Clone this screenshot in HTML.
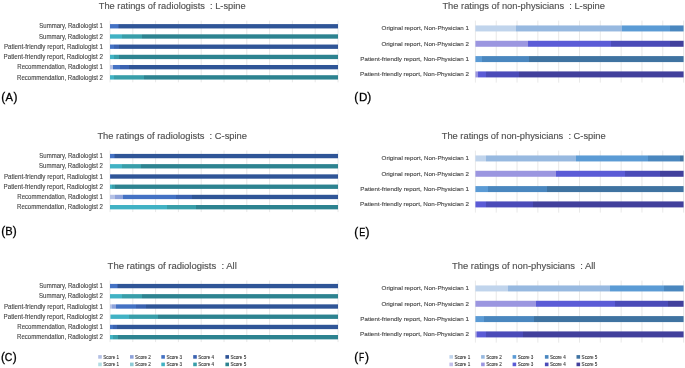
<!DOCTYPE html>
<html><head><meta charset="utf-8"><title>Ratings</title>
<style>
html,body{margin:0;padding:0;background:#fff;}
body{width:685px;height:368px;overflow:hidden;}
svg{display:block;will-change:transform;font-family:"Liberation Sans",sans-serif;}
text{white-space:pre;}
</style></head>
<body>
<svg width="685" height="368" viewBox="0 0 685 368" xml:space="preserve">
<rect width="685" height="368" fill="#fff"/>
<defs><linearGradient id="g0" gradientUnits="userSpaceOnUse" x1="110.00" y1="0" x2="338.00" y2="0"><stop offset="0.00000" stop-color="#4472c4"/><stop offset="0.03421" stop-color="#4472c4"/><stop offset="0.03421" stop-color="#3a62b0"/><stop offset="0.03947" stop-color="#3a62b0"/><stop offset="0.03947" stop-color="#2f5597"/><stop offset="1.00000" stop-color="#2f5597"/></linearGradient>
<linearGradient id="g1" gradientUnits="userSpaceOnUse" x1="110.00" y1="0" x2="338.00" y2="0"><stop offset="0.00000" stop-color="#41b2c4"/><stop offset="0.05307" stop-color="#41b2c4"/><stop offset="0.05307" stop-color="#389ea9"/><stop offset="0.14079" stop-color="#389ea9"/><stop offset="0.14079" stop-color="#2d8390"/><stop offset="1.00000" stop-color="#2d8390"/></linearGradient>
<linearGradient id="g2" gradientUnits="userSpaceOnUse" x1="110.00" y1="0" x2="338.00" y2="0"><stop offset="0.00000" stop-color="#4472c4"/><stop offset="0.01754" stop-color="#4472c4"/><stop offset="0.01754" stop-color="#3a62b0"/><stop offset="0.03947" stop-color="#3a62b0"/><stop offset="0.03947" stop-color="#2f5597"/><stop offset="1.00000" stop-color="#2f5597"/></linearGradient>
<linearGradient id="g3" gradientUnits="userSpaceOnUse" x1="110.00" y1="0" x2="338.00" y2="0"><stop offset="0.00000" stop-color="#41b2c4"/><stop offset="0.01667" stop-color="#41b2c4"/><stop offset="0.01667" stop-color="#389ea9"/><stop offset="0.03947" stop-color="#389ea9"/><stop offset="0.03947" stop-color="#2d8390"/><stop offset="1.00000" stop-color="#2d8390"/></linearGradient>
<linearGradient id="g4" gradientUnits="userSpaceOnUse" x1="110.00" y1="0" x2="338.00" y2="0"><stop offset="0.00000" stop-color="#b4c0e4"/><stop offset="0.01140" stop-color="#b4c0e4"/><stop offset="0.01140" stop-color="#4472c4"/><stop offset="0.04474" stop-color="#4472c4"/><stop offset="0.04474" stop-color="#3a62b0"/><stop offset="0.08333" stop-color="#3a62b0"/><stop offset="0.08333" stop-color="#2f5597"/><stop offset="1.00000" stop-color="#2f5597"/></linearGradient>
<linearGradient id="g5" gradientUnits="userSpaceOnUse" x1="110.00" y1="0" x2="338.00" y2="0"><stop offset="0.00000" stop-color="#41b2c4"/><stop offset="0.01754" stop-color="#41b2c4"/><stop offset="0.01754" stop-color="#389ea9"/><stop offset="0.14825" stop-color="#389ea9"/><stop offset="0.14825" stop-color="#2d8390"/><stop offset="1.00000" stop-color="#2d8390"/></linearGradient>
<linearGradient id="g6" gradientUnits="userSpaceOnUse" x1="110.00" y1="0" x2="338.00" y2="0"><stop offset="0.00000" stop-color="#4472c4"/><stop offset="0.01579" stop-color="#4472c4"/><stop offset="0.01579" stop-color="#3a62b0"/><stop offset="0.02105" stop-color="#3a62b0"/><stop offset="0.02105" stop-color="#2f5597"/><stop offset="1.00000" stop-color="#2f5597"/></linearGradient>
<linearGradient id="g7" gradientUnits="userSpaceOnUse" x1="110.00" y1="0" x2="338.00" y2="0"><stop offset="0.00000" stop-color="#41b2c4"/><stop offset="0.05263" stop-color="#41b2c4"/><stop offset="0.05263" stop-color="#389ea9"/><stop offset="0.13684" stop-color="#389ea9"/><stop offset="0.13684" stop-color="#2d8390"/><stop offset="1.00000" stop-color="#2d8390"/></linearGradient>
<linearGradient id="g8" gradientUnits="userSpaceOnUse" x1="110.00" y1="0" x2="338.00" y2="0"><stop offset="0.00000" stop-color="#3a62b0"/><stop offset="0.00263" stop-color="#3a62b0"/><stop offset="0.00263" stop-color="#2f5597"/><stop offset="1.00000" stop-color="#2f5597"/></linearGradient>
<linearGradient id="g9" gradientUnits="userSpaceOnUse" x1="110.00" y1="0" x2="338.00" y2="0"><stop offset="0.00000" stop-color="#41b2c4"/><stop offset="0.00877" stop-color="#41b2c4"/><stop offset="0.00877" stop-color="#389ea9"/><stop offset="0.02061" stop-color="#389ea9"/><stop offset="0.02061" stop-color="#2d8390"/><stop offset="1.00000" stop-color="#2d8390"/></linearGradient>
<linearGradient id="g10" gradientUnits="userSpaceOnUse" x1="110.00" y1="0" x2="338.00" y2="0"><stop offset="0.00000" stop-color="#b4c0e4"/><stop offset="0.02061" stop-color="#b4c0e4"/><stop offset="0.02061" stop-color="#8ea2da"/><stop offset="0.05702" stop-color="#8ea2da"/><stop offset="0.05702" stop-color="#4472c4"/><stop offset="0.28860" stop-color="#4472c4"/><stop offset="0.28860" stop-color="#3a62b0"/><stop offset="0.35965" stop-color="#3a62b0"/><stop offset="0.35965" stop-color="#2f5597"/><stop offset="1.00000" stop-color="#2f5597"/></linearGradient>
<linearGradient id="g11" gradientUnits="userSpaceOnUse" x1="110.00" y1="0" x2="338.00" y2="0"><stop offset="0.00000" stop-color="#41b2c4"/><stop offset="0.25088" stop-color="#41b2c4"/><stop offset="0.25088" stop-color="#389ea9"/><stop offset="0.37763" stop-color="#389ea9"/><stop offset="0.37763" stop-color="#2d8390"/><stop offset="1.00000" stop-color="#2d8390"/></linearGradient>
<linearGradient id="g12" gradientUnits="userSpaceOnUse" x1="110.00" y1="0" x2="338.00" y2="0"><stop offset="0.00000" stop-color="#4472c4"/><stop offset="0.03158" stop-color="#4472c4"/><stop offset="0.03158" stop-color="#3a62b0"/><stop offset="0.03596" stop-color="#3a62b0"/><stop offset="0.03596" stop-color="#2f5597"/><stop offset="1.00000" stop-color="#2f5597"/></linearGradient>
<linearGradient id="g13" gradientUnits="userSpaceOnUse" x1="110.00" y1="0" x2="338.00" y2="0"><stop offset="0.00000" stop-color="#41b2c4"/><stop offset="0.05351" stop-color="#41b2c4"/><stop offset="0.05351" stop-color="#389ea9"/><stop offset="0.13947" stop-color="#389ea9"/><stop offset="0.13947" stop-color="#2d8390"/><stop offset="1.00000" stop-color="#2d8390"/></linearGradient>
<linearGradient id="g14" gradientUnits="userSpaceOnUse" x1="110.00" y1="0" x2="338.00" y2="0"><stop offset="0.00000" stop-color="#b4c0e4"/><stop offset="0.00921" stop-color="#b4c0e4"/><stop offset="0.00921" stop-color="#8ea2da"/><stop offset="0.02544" stop-color="#8ea2da"/><stop offset="0.02544" stop-color="#4472c4"/><stop offset="0.11360" stop-color="#4472c4"/><stop offset="0.11360" stop-color="#3a62b0"/><stop offset="0.15877" stop-color="#3a62b0"/><stop offset="0.15877" stop-color="#2f5597"/><stop offset="1.00000" stop-color="#2f5597"/></linearGradient>
<linearGradient id="g15" gradientUnits="userSpaceOnUse" x1="110.00" y1="0" x2="338.00" y2="0"><stop offset="0.00000" stop-color="#8fcbd6"/><stop offset="0.00570" stop-color="#8fcbd6"/><stop offset="0.00570" stop-color="#41b2c4"/><stop offset="0.08377" stop-color="#41b2c4"/><stop offset="0.08377" stop-color="#389ea9"/><stop offset="0.21096" stop-color="#389ea9"/><stop offset="0.21096" stop-color="#2d8390"/><stop offset="1.00000" stop-color="#2d8390"/></linearGradient>
<linearGradient id="g16" gradientUnits="userSpaceOnUse" x1="110.00" y1="0" x2="338.00" y2="0"><stop offset="0.00000" stop-color="#4472c4"/><stop offset="0.01272" stop-color="#4472c4"/><stop offset="0.01272" stop-color="#3a62b0"/><stop offset="0.03158" stop-color="#3a62b0"/><stop offset="0.03158" stop-color="#2f5597"/><stop offset="1.00000" stop-color="#2f5597"/></linearGradient>
<linearGradient id="g17" gradientUnits="userSpaceOnUse" x1="110.00" y1="0" x2="338.00" y2="0"><stop offset="0.00000" stop-color="#41b2c4"/><stop offset="0.01491" stop-color="#41b2c4"/><stop offset="0.01491" stop-color="#389ea9"/><stop offset="0.03553" stop-color="#389ea9"/><stop offset="0.03553" stop-color="#2d8390"/><stop offset="1.00000" stop-color="#2d8390"/></linearGradient>
<linearGradient id="g18" gradientUnits="userSpaceOnUse" x1="475.40" y1="0" x2="683.60" y2="0"><stop offset="0.00000" stop-color="#c0d4ec"/><stop offset="0.19404" stop-color="#c0d4ec"/><stop offset="0.19404" stop-color="#97b9e0"/><stop offset="0.70605" stop-color="#97b9e0"/><stop offset="0.70605" stop-color="#5b9bd5"/><stop offset="0.93612" stop-color="#5b9bd5"/><stop offset="0.93612" stop-color="#4a87bf"/><stop offset="1.00000" stop-color="#4a87bf"/></linearGradient>
<linearGradient id="g19" gradientUnits="userSpaceOnUse" x1="475.40" y1="0" x2="683.60" y2="0"><stop offset="0.00000" stop-color="#9b96e0"/><stop offset="0.25168" stop-color="#9b96e0"/><stop offset="0.25168" stop-color="#5b5bd6"/><stop offset="0.65082" stop-color="#5b5bd6"/><stop offset="0.65082" stop-color="#4b4bb8"/><stop offset="0.93612" stop-color="#4b4bb8"/><stop offset="0.93612" stop-color="#42409c"/><stop offset="1.00000" stop-color="#42409c"/></linearGradient>
<linearGradient id="g20" gradientUnits="userSpaceOnUse" x1="475.40" y1="0" x2="683.60" y2="0"><stop offset="0.00000" stop-color="#5b9bd5"/><stop offset="0.03074" stop-color="#5b9bd5"/><stop offset="0.03074" stop-color="#4a87bf"/><stop offset="0.25889" stop-color="#4a87bf"/><stop offset="0.25889" stop-color="#3f73a1"/><stop offset="1.00000" stop-color="#3f73a1"/></linearGradient>
<linearGradient id="g21" gradientUnits="userSpaceOnUse" x1="475.40" y1="0" x2="683.60" y2="0"><stop offset="0.00000" stop-color="#9b96e0"/><stop offset="0.01201" stop-color="#9b96e0"/><stop offset="0.01201" stop-color="#5b5bd6"/><stop offset="0.05091" stop-color="#5b5bd6"/><stop offset="0.05091" stop-color="#4b4bb8"/><stop offset="0.21037" stop-color="#4b4bb8"/><stop offset="0.21037" stop-color="#42409c"/><stop offset="1.00000" stop-color="#42409c"/></linearGradient>
<linearGradient id="g22" gradientUnits="userSpaceOnUse" x1="475.40" y1="0" x2="683.60" y2="0"><stop offset="0.00000" stop-color="#c0d4ec"/><stop offset="0.05187" stop-color="#c0d4ec"/><stop offset="0.05187" stop-color="#97b9e0"/><stop offset="0.48319" stop-color="#97b9e0"/><stop offset="0.48319" stop-color="#5b9bd5"/><stop offset="0.83045" stop-color="#5b9bd5"/><stop offset="0.83045" stop-color="#4a87bf"/><stop offset="0.98271" stop-color="#4a87bf"/><stop offset="0.98271" stop-color="#3f73a1"/><stop offset="1.00000" stop-color="#3f73a1"/></linearGradient>
<linearGradient id="g23" gradientUnits="userSpaceOnUse" x1="475.40" y1="0" x2="683.60" y2="0"><stop offset="0.00000" stop-color="#9b96e0"/><stop offset="0.38713" stop-color="#9b96e0"/><stop offset="0.38713" stop-color="#5b5bd6"/><stop offset="0.71806" stop-color="#5b5bd6"/><stop offset="0.71806" stop-color="#4b4bb8"/><stop offset="0.88809" stop-color="#4b4bb8"/><stop offset="0.88809" stop-color="#42409c"/><stop offset="1.00000" stop-color="#42409c"/></linearGradient>
<linearGradient id="g24" gradientUnits="userSpaceOnUse" x1="475.40" y1="0" x2="683.60" y2="0"><stop offset="0.00000" stop-color="#5b9bd5"/><stop offset="0.05812" stop-color="#5b9bd5"/><stop offset="0.05812" stop-color="#4a87bf"/><stop offset="0.34438" stop-color="#4a87bf"/><stop offset="0.34438" stop-color="#3f73a1"/><stop offset="1.00000" stop-color="#3f73a1"/></linearGradient>
<linearGradient id="g25" gradientUnits="userSpaceOnUse" x1="475.40" y1="0" x2="683.60" y2="0"><stop offset="0.00000" stop-color="#5b5bd6"/><stop offset="0.05187" stop-color="#5b5bd6"/><stop offset="0.05187" stop-color="#4b4bb8"/><stop offset="0.27570" stop-color="#4b4bb8"/><stop offset="0.27570" stop-color="#42409c"/><stop offset="1.00000" stop-color="#42409c"/></linearGradient>
<linearGradient id="g26" gradientUnits="userSpaceOnUse" x1="475.40" y1="0" x2="683.60" y2="0"><stop offset="0.00000" stop-color="#c0d4ec"/><stop offset="0.15514" stop-color="#c0d4ec"/><stop offset="0.15514" stop-color="#97b9e0"/><stop offset="0.64553" stop-color="#97b9e0"/><stop offset="0.64553" stop-color="#5b9bd5"/><stop offset="0.90634" stop-color="#5b9bd5"/><stop offset="0.90634" stop-color="#4a87bf"/><stop offset="1.00000" stop-color="#4a87bf"/></linearGradient>
<linearGradient id="g27" gradientUnits="userSpaceOnUse" x1="475.40" y1="0" x2="683.60" y2="0"><stop offset="0.00000" stop-color="#9b96e0"/><stop offset="0.28963" stop-color="#9b96e0"/><stop offset="0.28963" stop-color="#5b5bd6"/><stop offset="0.67051" stop-color="#5b5bd6"/><stop offset="0.67051" stop-color="#4b4bb8"/><stop offset="0.92459" stop-color="#4b4bb8"/><stop offset="0.92459" stop-color="#42409c"/><stop offset="1.00000" stop-color="#42409c"/></linearGradient>
<linearGradient id="g28" gradientUnits="userSpaceOnUse" x1="475.40" y1="0" x2="683.60" y2="0"><stop offset="0.00000" stop-color="#5b9bd5"/><stop offset="0.03987" stop-color="#5b9bd5"/><stop offset="0.03987" stop-color="#4a87bf"/><stop offset="0.28290" stop-color="#4a87bf"/><stop offset="0.28290" stop-color="#3f73a1"/><stop offset="1.00000" stop-color="#3f73a1"/></linearGradient>
<linearGradient id="g29" gradientUnits="userSpaceOnUse" x1="475.40" y1="0" x2="683.60" y2="0"><stop offset="0.00000" stop-color="#9b96e0"/><stop offset="0.00865" stop-color="#9b96e0"/><stop offset="0.00865" stop-color="#5b5bd6"/><stop offset="0.04899" stop-color="#5b5bd6"/><stop offset="0.04899" stop-color="#4b4bb8"/><stop offset="0.22815" stop-color="#4b4bb8"/><stop offset="0.22815" stop-color="#42409c"/><stop offset="1.00000" stop-color="#42409c"/></linearGradient></defs>
<line x1="110.00" y1="20.70" x2="110.00" y2="82.30" stroke="#e0e0e0" stroke-width="0.75"/>
<line x1="132.80" y1="20.70" x2="132.80" y2="82.30" stroke="#e0e0e0" stroke-width="0.75"/>
<line x1="155.60" y1="20.70" x2="155.60" y2="82.30" stroke="#e0e0e0" stroke-width="0.75"/>
<line x1="178.40" y1="20.70" x2="178.40" y2="82.30" stroke="#e0e0e0" stroke-width="0.75"/>
<line x1="201.20" y1="20.70" x2="201.20" y2="82.30" stroke="#e0e0e0" stroke-width="0.75"/>
<line x1="224.00" y1="20.70" x2="224.00" y2="82.30" stroke="#e0e0e0" stroke-width="0.75"/>
<line x1="246.80" y1="20.70" x2="246.80" y2="82.30" stroke="#e0e0e0" stroke-width="0.75"/>
<line x1="269.60" y1="20.70" x2="269.60" y2="82.30" stroke="#e0e0e0" stroke-width="0.75"/>
<line x1="292.40" y1="20.70" x2="292.40" y2="82.30" stroke="#e0e0e0" stroke-width="0.75"/>
<line x1="315.20" y1="20.70" x2="315.20" y2="82.30" stroke="#e0e0e0" stroke-width="0.75"/>
<line x1="338.00" y1="20.70" x2="338.00" y2="82.30" stroke="#e0e0e0" stroke-width="0.75"/>
<rect x="110.00" y="24.10" width="228.00" height="4.35" fill="url(#g0)"/>
<rect x="110.00" y="34.32" width="228.00" height="4.35" fill="url(#g1)"/>
<rect x="110.00" y="44.54" width="228.00" height="4.35" fill="url(#g2)"/>
<rect x="110.00" y="54.76" width="228.00" height="4.35" fill="url(#g3)"/>
<rect x="110.00" y="64.98" width="228.00" height="4.35" fill="url(#g4)"/>
<rect x="110.00" y="75.20" width="228.00" height="4.35" fill="url(#g5)"/>
<text x="102.90" y="28.45" font-size="6.6" fill="#474747" text-anchor="end" stroke="#474747" stroke-width="0.12" textLength="63.60" lengthAdjust="spacingAndGlyphs">Summary, Radiologist 1</text>
<text x="102.90" y="38.67" font-size="6.6" fill="#474747" text-anchor="end" stroke="#474747" stroke-width="0.12" textLength="63.90" lengthAdjust="spacingAndGlyphs">Summary, Radiologist 2</text>
<text x="102.90" y="48.89" font-size="6.6" fill="#474747" text-anchor="end" stroke="#474747" stroke-width="0.12" textLength="99.00" lengthAdjust="spacingAndGlyphs">Patient-friendly report, Radiologist 1</text>
<text x="102.90" y="59.11" font-size="6.6" fill="#474747" text-anchor="end" stroke="#474747" stroke-width="0.12" textLength="99.30" lengthAdjust="spacingAndGlyphs">Patient-friendly report, Radiologist 2</text>
<text x="102.90" y="69.33" font-size="6.6" fill="#474747" text-anchor="end" stroke="#474747" stroke-width="0.12" textLength="85.60" lengthAdjust="spacingAndGlyphs">Recommendation, Radiologist 1</text>
<text x="102.90" y="79.55" font-size="6.6" fill="#474747" text-anchor="end" stroke="#474747" stroke-width="0.12" textLength="85.90" lengthAdjust="spacingAndGlyphs">Recommendation, Radiologist 2</text>
<text x="172.20" y="9.10" font-size="9.9" fill="#505050" text-anchor="middle" stroke="#505050" stroke-width="0.15" textLength="146.80" lengthAdjust="spacingAndGlyphs">The ratings of radiologists  : L-spine</text>
<line x1="110.00" y1="150.50" x2="110.00" y2="212.10" stroke="#e0e0e0" stroke-width="0.75"/>
<line x1="132.80" y1="150.50" x2="132.80" y2="212.10" stroke="#e0e0e0" stroke-width="0.75"/>
<line x1="155.60" y1="150.50" x2="155.60" y2="212.10" stroke="#e0e0e0" stroke-width="0.75"/>
<line x1="178.40" y1="150.50" x2="178.40" y2="212.10" stroke="#e0e0e0" stroke-width="0.75"/>
<line x1="201.20" y1="150.50" x2="201.20" y2="212.10" stroke="#e0e0e0" stroke-width="0.75"/>
<line x1="224.00" y1="150.50" x2="224.00" y2="212.10" stroke="#e0e0e0" stroke-width="0.75"/>
<line x1="246.80" y1="150.50" x2="246.80" y2="212.10" stroke="#e0e0e0" stroke-width="0.75"/>
<line x1="269.60" y1="150.50" x2="269.60" y2="212.10" stroke="#e0e0e0" stroke-width="0.75"/>
<line x1="292.40" y1="150.50" x2="292.40" y2="212.10" stroke="#e0e0e0" stroke-width="0.75"/>
<line x1="315.20" y1="150.50" x2="315.20" y2="212.10" stroke="#e0e0e0" stroke-width="0.75"/>
<line x1="338.00" y1="150.50" x2="338.00" y2="212.10" stroke="#e0e0e0" stroke-width="0.75"/>
<rect x="110.00" y="153.90" width="228.00" height="4.35" fill="url(#g6)"/>
<rect x="110.00" y="164.12" width="228.00" height="4.35" fill="url(#g7)"/>
<rect x="110.00" y="174.34" width="228.00" height="4.35" fill="url(#g8)"/>
<rect x="110.00" y="184.56" width="228.00" height="4.35" fill="url(#g9)"/>
<rect x="110.00" y="194.78" width="228.00" height="4.35" fill="url(#g10)"/>
<rect x="110.00" y="205.00" width="228.00" height="4.35" fill="url(#g11)"/>
<text x="102.90" y="158.25" font-size="6.6" fill="#474747" text-anchor="end" stroke="#474747" stroke-width="0.12" textLength="63.60" lengthAdjust="spacingAndGlyphs">Summary, Radiologist 1</text>
<text x="102.90" y="168.47" font-size="6.6" fill="#474747" text-anchor="end" stroke="#474747" stroke-width="0.12" textLength="63.90" lengthAdjust="spacingAndGlyphs">Summary, Radiologist 2</text>
<text x="102.90" y="178.69" font-size="6.6" fill="#474747" text-anchor="end" stroke="#474747" stroke-width="0.12" textLength="99.00" lengthAdjust="spacingAndGlyphs">Patient-friendly report, Radiologist 1</text>
<text x="102.90" y="188.91" font-size="6.6" fill="#474747" text-anchor="end" stroke="#474747" stroke-width="0.12" textLength="99.30" lengthAdjust="spacingAndGlyphs">Patient-friendly report, Radiologist 2</text>
<text x="102.90" y="199.13" font-size="6.6" fill="#474747" text-anchor="end" stroke="#474747" stroke-width="0.12" textLength="85.60" lengthAdjust="spacingAndGlyphs">Recommendation, Radiologist 1</text>
<text x="102.90" y="209.35" font-size="6.6" fill="#474747" text-anchor="end" stroke="#474747" stroke-width="0.12" textLength="85.90" lengthAdjust="spacingAndGlyphs">Recommendation, Radiologist 2</text>
<text x="172.20" y="138.90" font-size="9.9" fill="#505050" text-anchor="middle" stroke="#505050" stroke-width="0.15" textLength="149.60" lengthAdjust="spacingAndGlyphs">The ratings of radiologists  : C-spine</text>
<line x1="110.00" y1="280.50" x2="110.00" y2="342.10" stroke="#e0e0e0" stroke-width="0.75"/>
<line x1="132.80" y1="280.50" x2="132.80" y2="342.10" stroke="#e0e0e0" stroke-width="0.75"/>
<line x1="155.60" y1="280.50" x2="155.60" y2="342.10" stroke="#e0e0e0" stroke-width="0.75"/>
<line x1="178.40" y1="280.50" x2="178.40" y2="342.10" stroke="#e0e0e0" stroke-width="0.75"/>
<line x1="201.20" y1="280.50" x2="201.20" y2="342.10" stroke="#e0e0e0" stroke-width="0.75"/>
<line x1="224.00" y1="280.50" x2="224.00" y2="342.10" stroke="#e0e0e0" stroke-width="0.75"/>
<line x1="246.80" y1="280.50" x2="246.80" y2="342.10" stroke="#e0e0e0" stroke-width="0.75"/>
<line x1="269.60" y1="280.50" x2="269.60" y2="342.10" stroke="#e0e0e0" stroke-width="0.75"/>
<line x1="292.40" y1="280.50" x2="292.40" y2="342.10" stroke="#e0e0e0" stroke-width="0.75"/>
<line x1="315.20" y1="280.50" x2="315.20" y2="342.10" stroke="#e0e0e0" stroke-width="0.75"/>
<line x1="338.00" y1="280.50" x2="338.00" y2="342.10" stroke="#e0e0e0" stroke-width="0.75"/>
<rect x="110.00" y="283.90" width="228.00" height="4.35" fill="url(#g12)"/>
<rect x="110.00" y="294.12" width="228.00" height="4.35" fill="url(#g13)"/>
<rect x="110.00" y="304.34" width="228.00" height="4.35" fill="url(#g14)"/>
<rect x="110.00" y="314.56" width="228.00" height="4.35" fill="url(#g15)"/>
<rect x="110.00" y="324.78" width="228.00" height="4.35" fill="url(#g16)"/>
<rect x="110.00" y="335.00" width="228.00" height="4.35" fill="url(#g17)"/>
<text x="102.90" y="288.25" font-size="6.6" fill="#474747" text-anchor="end" stroke="#474747" stroke-width="0.12" textLength="63.60" lengthAdjust="spacingAndGlyphs">Summary, Radiologist 1</text>
<text x="102.90" y="298.47" font-size="6.6" fill="#474747" text-anchor="end" stroke="#474747" stroke-width="0.12" textLength="63.90" lengthAdjust="spacingAndGlyphs">Summary, Radiologist 2</text>
<text x="102.90" y="308.69" font-size="6.6" fill="#474747" text-anchor="end" stroke="#474747" stroke-width="0.12" textLength="99.00" lengthAdjust="spacingAndGlyphs">Patient-friendly report, Radiologist 1</text>
<text x="102.90" y="318.91" font-size="6.6" fill="#474747" text-anchor="end" stroke="#474747" stroke-width="0.12" textLength="99.30" lengthAdjust="spacingAndGlyphs">Patient-friendly report, Radiologist 2</text>
<text x="102.90" y="329.13" font-size="6.6" fill="#474747" text-anchor="end" stroke="#474747" stroke-width="0.12" textLength="85.60" lengthAdjust="spacingAndGlyphs">Recommendation, Radiologist 1</text>
<text x="102.90" y="339.35" font-size="6.6" fill="#474747" text-anchor="end" stroke="#474747" stroke-width="0.12" textLength="85.90" lengthAdjust="spacingAndGlyphs">Recommendation, Radiologist 2</text>
<text x="172.20" y="268.90" font-size="9.9" fill="#505050" text-anchor="middle" stroke="#505050" stroke-width="0.15" textLength="129.20" lengthAdjust="spacingAndGlyphs">The ratings of radiologists  : All</text>
<line x1="475.40" y1="20.60" x2="475.40" y2="82.60" stroke="#e0e0e0" stroke-width="0.75"/>
<line x1="496.22" y1="20.60" x2="496.22" y2="82.60" stroke="#e0e0e0" stroke-width="0.75"/>
<line x1="517.04" y1="20.60" x2="517.04" y2="82.60" stroke="#e0e0e0" stroke-width="0.75"/>
<line x1="537.86" y1="20.60" x2="537.86" y2="82.60" stroke="#e0e0e0" stroke-width="0.75"/>
<line x1="558.68" y1="20.60" x2="558.68" y2="82.60" stroke="#e0e0e0" stroke-width="0.75"/>
<line x1="579.50" y1="20.60" x2="579.50" y2="82.60" stroke="#e0e0e0" stroke-width="0.75"/>
<line x1="600.32" y1="20.60" x2="600.32" y2="82.60" stroke="#e0e0e0" stroke-width="0.75"/>
<line x1="621.14" y1="20.60" x2="621.14" y2="82.60" stroke="#e0e0e0" stroke-width="0.75"/>
<line x1="641.96" y1="20.60" x2="641.96" y2="82.60" stroke="#e0e0e0" stroke-width="0.75"/>
<line x1="662.78" y1="20.60" x2="662.78" y2="82.60" stroke="#e0e0e0" stroke-width="0.75"/>
<line x1="683.60" y1="20.60" x2="683.60" y2="82.60" stroke="#e0e0e0" stroke-width="0.75"/>
<rect x="475.40" y="25.45" width="208.20" height="6.00" fill="url(#g18)"/>
<rect x="475.40" y="40.77" width="208.20" height="6.00" fill="url(#g19)"/>
<rect x="475.40" y="56.09" width="208.20" height="6.00" fill="url(#g20)"/>
<rect x="475.40" y="71.41" width="208.20" height="6.00" fill="url(#g21)"/>
<text x="468.90" y="30.30" font-size="6.1" fill="#474747" text-anchor="end" stroke="#474747" stroke-width="0.12" textLength="87.30" lengthAdjust="spacingAndGlyphs">Original report, Non-Physician 1</text>
<text x="468.90" y="45.62" font-size="6.1" fill="#474747" text-anchor="end" stroke="#474747" stroke-width="0.12" textLength="87.50" lengthAdjust="spacingAndGlyphs">Original report, Non-Physician 2</text>
<text x="468.90" y="60.94" font-size="6.1" fill="#474747" text-anchor="end" stroke="#474747" stroke-width="0.12" textLength="108.60" lengthAdjust="spacingAndGlyphs">Patient-friendly report, Non-Physician 1</text>
<text x="468.90" y="76.26" font-size="6.1" fill="#474747" text-anchor="end" stroke="#474747" stroke-width="0.12" textLength="108.80" lengthAdjust="spacingAndGlyphs">Patient-friendly report, Non-Physician 2</text>
<text x="523.70" y="9.00" font-size="9.9" fill="#505050" text-anchor="middle" stroke="#505050" stroke-width="0.15" textLength="162.60" lengthAdjust="spacingAndGlyphs">The ratings of non-physicians  : L-spine</text>
<line x1="475.40" y1="150.60" x2="475.40" y2="212.60" stroke="#e0e0e0" stroke-width="0.75"/>
<line x1="496.22" y1="150.60" x2="496.22" y2="212.60" stroke="#e0e0e0" stroke-width="0.75"/>
<line x1="517.04" y1="150.60" x2="517.04" y2="212.60" stroke="#e0e0e0" stroke-width="0.75"/>
<line x1="537.86" y1="150.60" x2="537.86" y2="212.60" stroke="#e0e0e0" stroke-width="0.75"/>
<line x1="558.68" y1="150.60" x2="558.68" y2="212.60" stroke="#e0e0e0" stroke-width="0.75"/>
<line x1="579.50" y1="150.60" x2="579.50" y2="212.60" stroke="#e0e0e0" stroke-width="0.75"/>
<line x1="600.32" y1="150.60" x2="600.32" y2="212.60" stroke="#e0e0e0" stroke-width="0.75"/>
<line x1="621.14" y1="150.60" x2="621.14" y2="212.60" stroke="#e0e0e0" stroke-width="0.75"/>
<line x1="641.96" y1="150.60" x2="641.96" y2="212.60" stroke="#e0e0e0" stroke-width="0.75"/>
<line x1="662.78" y1="150.60" x2="662.78" y2="212.60" stroke="#e0e0e0" stroke-width="0.75"/>
<line x1="683.60" y1="150.60" x2="683.60" y2="212.60" stroke="#e0e0e0" stroke-width="0.75"/>
<rect x="475.40" y="155.45" width="208.20" height="6.00" fill="url(#g22)"/>
<rect x="475.40" y="170.77" width="208.20" height="6.00" fill="url(#g23)"/>
<rect x="475.40" y="186.09" width="208.20" height="6.00" fill="url(#g24)"/>
<rect x="475.40" y="201.41" width="208.20" height="6.00" fill="url(#g25)"/>
<text x="468.90" y="160.30" font-size="6.1" fill="#474747" text-anchor="end" stroke="#474747" stroke-width="0.12" textLength="87.30" lengthAdjust="spacingAndGlyphs">Original report, Non-Physician 1</text>
<text x="468.90" y="175.62" font-size="6.1" fill="#474747" text-anchor="end" stroke="#474747" stroke-width="0.12" textLength="87.50" lengthAdjust="spacingAndGlyphs">Original report, Non-Physician 2</text>
<text x="468.90" y="190.94" font-size="6.1" fill="#474747" text-anchor="end" stroke="#474747" stroke-width="0.12" textLength="108.60" lengthAdjust="spacingAndGlyphs">Patient-friendly report, Non-Physician 1</text>
<text x="468.90" y="206.26" font-size="6.1" fill="#474747" text-anchor="end" stroke="#474747" stroke-width="0.12" textLength="108.80" lengthAdjust="spacingAndGlyphs">Patient-friendly report, Non-Physician 2</text>
<text x="523.70" y="139.00" font-size="9.9" fill="#505050" text-anchor="middle" stroke="#505050" stroke-width="0.15" textLength="163.90" lengthAdjust="spacingAndGlyphs">The ratings of non-physicians  : C-spine</text>
<line x1="475.40" y1="280.60" x2="475.40" y2="342.60" stroke="#e0e0e0" stroke-width="0.75"/>
<line x1="496.22" y1="280.60" x2="496.22" y2="342.60" stroke="#e0e0e0" stroke-width="0.75"/>
<line x1="517.04" y1="280.60" x2="517.04" y2="342.60" stroke="#e0e0e0" stroke-width="0.75"/>
<line x1="537.86" y1="280.60" x2="537.86" y2="342.60" stroke="#e0e0e0" stroke-width="0.75"/>
<line x1="558.68" y1="280.60" x2="558.68" y2="342.60" stroke="#e0e0e0" stroke-width="0.75"/>
<line x1="579.50" y1="280.60" x2="579.50" y2="342.60" stroke="#e0e0e0" stroke-width="0.75"/>
<line x1="600.32" y1="280.60" x2="600.32" y2="342.60" stroke="#e0e0e0" stroke-width="0.75"/>
<line x1="621.14" y1="280.60" x2="621.14" y2="342.60" stroke="#e0e0e0" stroke-width="0.75"/>
<line x1="641.96" y1="280.60" x2="641.96" y2="342.60" stroke="#e0e0e0" stroke-width="0.75"/>
<line x1="662.78" y1="280.60" x2="662.78" y2="342.60" stroke="#e0e0e0" stroke-width="0.75"/>
<line x1="683.60" y1="280.60" x2="683.60" y2="342.60" stroke="#e0e0e0" stroke-width="0.75"/>
<rect x="475.40" y="285.45" width="208.20" height="6.00" fill="url(#g26)"/>
<rect x="475.40" y="300.77" width="208.20" height="6.00" fill="url(#g27)"/>
<rect x="475.40" y="316.09" width="208.20" height="6.00" fill="url(#g28)"/>
<rect x="475.40" y="331.41" width="208.20" height="6.00" fill="url(#g29)"/>
<text x="468.90" y="290.30" font-size="6.1" fill="#474747" text-anchor="end" stroke="#474747" stroke-width="0.12" textLength="87.30" lengthAdjust="spacingAndGlyphs">Original report, Non-Physician 1</text>
<text x="468.90" y="305.62" font-size="6.1" fill="#474747" text-anchor="end" stroke="#474747" stroke-width="0.12" textLength="87.50" lengthAdjust="spacingAndGlyphs">Original report, Non-Physician 2</text>
<text x="468.90" y="320.94" font-size="6.1" fill="#474747" text-anchor="end" stroke="#474747" stroke-width="0.12" textLength="108.60" lengthAdjust="spacingAndGlyphs">Patient-friendly report, Non-Physician 1</text>
<text x="468.90" y="336.26" font-size="6.1" fill="#474747" text-anchor="end" stroke="#474747" stroke-width="0.12" textLength="108.80" lengthAdjust="spacingAndGlyphs">Patient-friendly report, Non-Physician 2</text>
<text x="523.70" y="269.00" font-size="9.9" fill="#505050" text-anchor="middle" stroke="#505050" stroke-width="0.15" textLength="143.30" lengthAdjust="spacingAndGlyphs">The ratings of non-physicians  : All</text>
<g fill="#000" stroke="#000" stroke-width="0.3"><text x="1.26" y="101.00" font-size="11.9">(</text><text transform="translate(5.58,101.00) scale(0.962,1)" x="0" y="0" font-size="11.6">A</text><text x="13.38" y="101.00" font-size="11.9">)</text></g>
<g fill="#000" stroke="#000" stroke-width="0.3"><text x="1.26" y="235.40" font-size="11.9">(</text><text transform="translate(5.19,235.40) scale(0.956,1)" x="0" y="0" font-size="11.6">B</text><text x="12.68" y="235.40" font-size="11.9">)</text></g>
<g fill="#000" stroke="#000" stroke-width="0.3"><text x="0.96" y="360.90" font-size="11.9">(</text><text transform="translate(4.87,360.90) scale(0.898,1)" x="0" y="0" font-size="11.6">C</text><text x="12.68" y="360.90" font-size="11.9">)</text></g>
<g fill="#000" stroke="#000" stroke-width="0.3"><text x="354.36" y="101.00" font-size="11.9">(</text><text transform="translate(359.04,101.00) scale(1.004,1)" x="0" y="0" font-size="11.6">D</text><text x="367.28" y="101.00" font-size="11.9">)</text></g>
<g fill="#000" stroke="#000" stroke-width="0.3"><text x="354.36" y="235.50" font-size="11.9">(</text><text transform="translate(359.26,235.50) scale(0.779,1)" x="0" y="0" font-size="11.6">E</text><text x="365.58" y="235.50" font-size="11.9">)</text></g>
<g fill="#000" stroke="#000" stroke-width="0.3"><text x="354.36" y="360.90" font-size="11.9">(</text><text transform="translate(359.11,360.90) scale(0.723,1)" x="0" y="0" font-size="11.6">F</text><text x="364.88" y="360.90" font-size="11.9">)</text></g>
<rect x="98.20" y="355.10" width="3.60" height="3.60" fill="#b4c0e4"/>
<text x="103.30" y="358.70" font-size="5.0" fill="#333" stroke="#333" stroke-width="0.1" textLength="15.70" lengthAdjust="spacingAndGlyphs">Score 1</text>
<rect x="98.20" y="362.60" width="3.60" height="3.60" fill="#b3dde3"/>
<text x="103.30" y="366.20" font-size="5.0" fill="#333" stroke="#333" stroke-width="0.1" textLength="15.70" lengthAdjust="spacingAndGlyphs">Score 1</text>
<rect x="130.00" y="355.10" width="3.60" height="3.60" fill="#8ea2da"/>
<text x="135.10" y="358.70" font-size="5.0" fill="#333" stroke="#333" stroke-width="0.1" textLength="15.70" lengthAdjust="spacingAndGlyphs">Score 2</text>
<rect x="130.00" y="362.60" width="3.60" height="3.60" fill="#8fcbd6"/>
<text x="135.10" y="366.20" font-size="5.0" fill="#333" stroke="#333" stroke-width="0.1" textLength="15.70" lengthAdjust="spacingAndGlyphs">Score 2</text>
<rect x="161.30" y="355.10" width="3.60" height="3.60" fill="#4472c4"/>
<text x="166.40" y="358.70" font-size="5.0" fill="#333" stroke="#333" stroke-width="0.1" textLength="15.70" lengthAdjust="spacingAndGlyphs">Score 3</text>
<rect x="161.30" y="362.60" width="3.60" height="3.60" fill="#41b2c4"/>
<text x="166.40" y="366.20" font-size="5.0" fill="#333" stroke="#333" stroke-width="0.1" textLength="15.70" lengthAdjust="spacingAndGlyphs">Score 3</text>
<rect x="193.20" y="355.10" width="3.60" height="3.60" fill="#3a62b0"/>
<text x="198.30" y="358.70" font-size="5.0" fill="#333" stroke="#333" stroke-width="0.1" textLength="15.70" lengthAdjust="spacingAndGlyphs">Score 4</text>
<rect x="193.20" y="362.60" width="3.60" height="3.60" fill="#389ea9"/>
<text x="198.30" y="366.20" font-size="5.0" fill="#333" stroke="#333" stroke-width="0.1" textLength="15.70" lengthAdjust="spacingAndGlyphs">Score 4</text>
<rect x="225.40" y="355.10" width="3.60" height="3.60" fill="#2f5597"/>
<text x="230.50" y="358.70" font-size="5.0" fill="#333" stroke="#333" stroke-width="0.1" textLength="15.70" lengthAdjust="spacingAndGlyphs">Score 5</text>
<rect x="225.40" y="362.60" width="3.60" height="3.60" fill="#2d8390"/>
<text x="230.50" y="366.20" font-size="5.0" fill="#333" stroke="#333" stroke-width="0.1" textLength="15.70" lengthAdjust="spacingAndGlyphs">Score 5</text>
<rect x="449.40" y="355.10" width="3.60" height="3.60" fill="#c0d4ec"/>
<text x="454.50" y="358.70" font-size="5.0" fill="#333" stroke="#333" stroke-width="0.1" textLength="15.70" lengthAdjust="spacingAndGlyphs">Score 1</text>
<rect x="449.40" y="362.60" width="3.60" height="3.60" fill="#c2bfea"/>
<text x="454.50" y="366.20" font-size="5.0" fill="#333" stroke="#333" stroke-width="0.1" textLength="15.70" lengthAdjust="spacingAndGlyphs">Score 1</text>
<rect x="481.10" y="355.10" width="3.60" height="3.60" fill="#97b9e0"/>
<text x="486.20" y="358.70" font-size="5.0" fill="#333" stroke="#333" stroke-width="0.1" textLength="15.70" lengthAdjust="spacingAndGlyphs">Score 2</text>
<rect x="481.10" y="362.60" width="3.60" height="3.60" fill="#9b96e0"/>
<text x="486.20" y="366.20" font-size="5.0" fill="#333" stroke="#333" stroke-width="0.1" textLength="15.70" lengthAdjust="spacingAndGlyphs">Score 2</text>
<rect x="512.60" y="355.10" width="3.60" height="3.60" fill="#5b9bd5"/>
<text x="517.70" y="358.70" font-size="5.0" fill="#333" stroke="#333" stroke-width="0.1" textLength="15.70" lengthAdjust="spacingAndGlyphs">Score 3</text>
<rect x="512.60" y="362.60" width="3.60" height="3.60" fill="#5b5bd6"/>
<text x="517.70" y="366.20" font-size="5.0" fill="#333" stroke="#333" stroke-width="0.1" textLength="15.70" lengthAdjust="spacingAndGlyphs">Score 3</text>
<rect x="544.90" y="355.10" width="3.60" height="3.60" fill="#4a87bf"/>
<text x="550.00" y="358.70" font-size="5.0" fill="#333" stroke="#333" stroke-width="0.1" textLength="15.70" lengthAdjust="spacingAndGlyphs">Score 4</text>
<rect x="544.90" y="362.60" width="3.60" height="3.60" fill="#4b4bb8"/>
<text x="550.00" y="366.20" font-size="5.0" fill="#333" stroke="#333" stroke-width="0.1" textLength="15.70" lengthAdjust="spacingAndGlyphs">Score 4</text>
<rect x="576.50" y="355.10" width="3.60" height="3.60" fill="#3f73a1"/>
<text x="581.60" y="358.70" font-size="5.0" fill="#333" stroke="#333" stroke-width="0.1" textLength="15.70" lengthAdjust="spacingAndGlyphs">Score 5</text>
<rect x="576.50" y="362.60" width="3.60" height="3.60" fill="#42409c"/>
<text x="581.60" y="366.20" font-size="5.0" fill="#333" stroke="#333" stroke-width="0.1" textLength="15.70" lengthAdjust="spacingAndGlyphs">Score 5</text>
</svg>
</body></html>
